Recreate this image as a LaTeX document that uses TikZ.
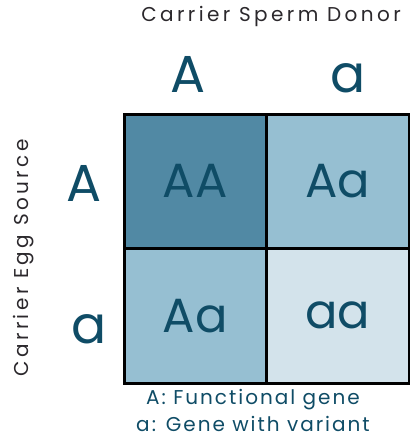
\documentclass[tikz,border=0pt]{standalone}
\usepackage{fontspec}
\setmainfont{Poppins}
\newfontfamily\widefont[LetterSpace=17]{Poppins}
\newfontfamily\keyfont[LetterSpace=10]{Poppins}
\usetikzlibrary{positioning}

\definecolor{deepteal}{HTML}{0F4C66}
\definecolor{celldark}{HTML}{5189A4}
\definecolor{cellmid}{HTML}{96BFD2}
\definecolor{celllight}{HTML}{D3E3EB}
\definecolor{titlegray}{HTML}{2B282C}

\begin{document}
\begin{tikzpicture}[x=1pt,y=-1pt,
    cell/.style={draw=black, line width=3pt, minimum width=142.5pt, minimum height=134.5pt,
      inner sep=0pt, outer sep=0pt, text=deepteal, font=\fontsize{48}{48}\selectfont},
    allele/.style={text=deepteal, inner sep=0pt, font=\fontsize{52}{52}\selectfont},
    parent/.style={text=titlegray, inner sep=0pt, font=\widefont\fontsize{20}{22}\selectfont},
    legend/.style={text=deepteal, inner sep=0pt, font=\keyfont\fontsize{20}{22}\selectfont}]
    \useasboundingbox (0,0) rectangle (410,437);
    % punnett square
    \node (AA) [cell, fill=celldark] at (195.25,181.25) {AA};
    \node (Aa1) [cell, fill=cellmid, right=0pt of AA] {Aa};
    \node (Aa2) [cell, fill=cellmid, below=0pt of AA] {Aa};
    \node (aa) [cell, fill=celllight, right=0pt of Aa2] {aa};
    % alleles of each parent
    \node (donorA) [allele] at (188,74) {A};
    \node (donora) [allele] at (348,78) {a};
    \node (eggA) [allele] at (84,183) {A};
    \node (egga) [allele] at (89,329) {a};
    \node (donor) [parent] at (271,16) {Carrier Sperm Donor};
    \node (egg) [parent, rotate=90] at (24,258) {Carrier Egg Source};
    % key
    \node (keyA) [legend] at (253,400) {A: Functional gene};
    \node (keya) [legend] at (253,423.5) {a: Gene with variant};
\end{tikzpicture}
\end{document}
